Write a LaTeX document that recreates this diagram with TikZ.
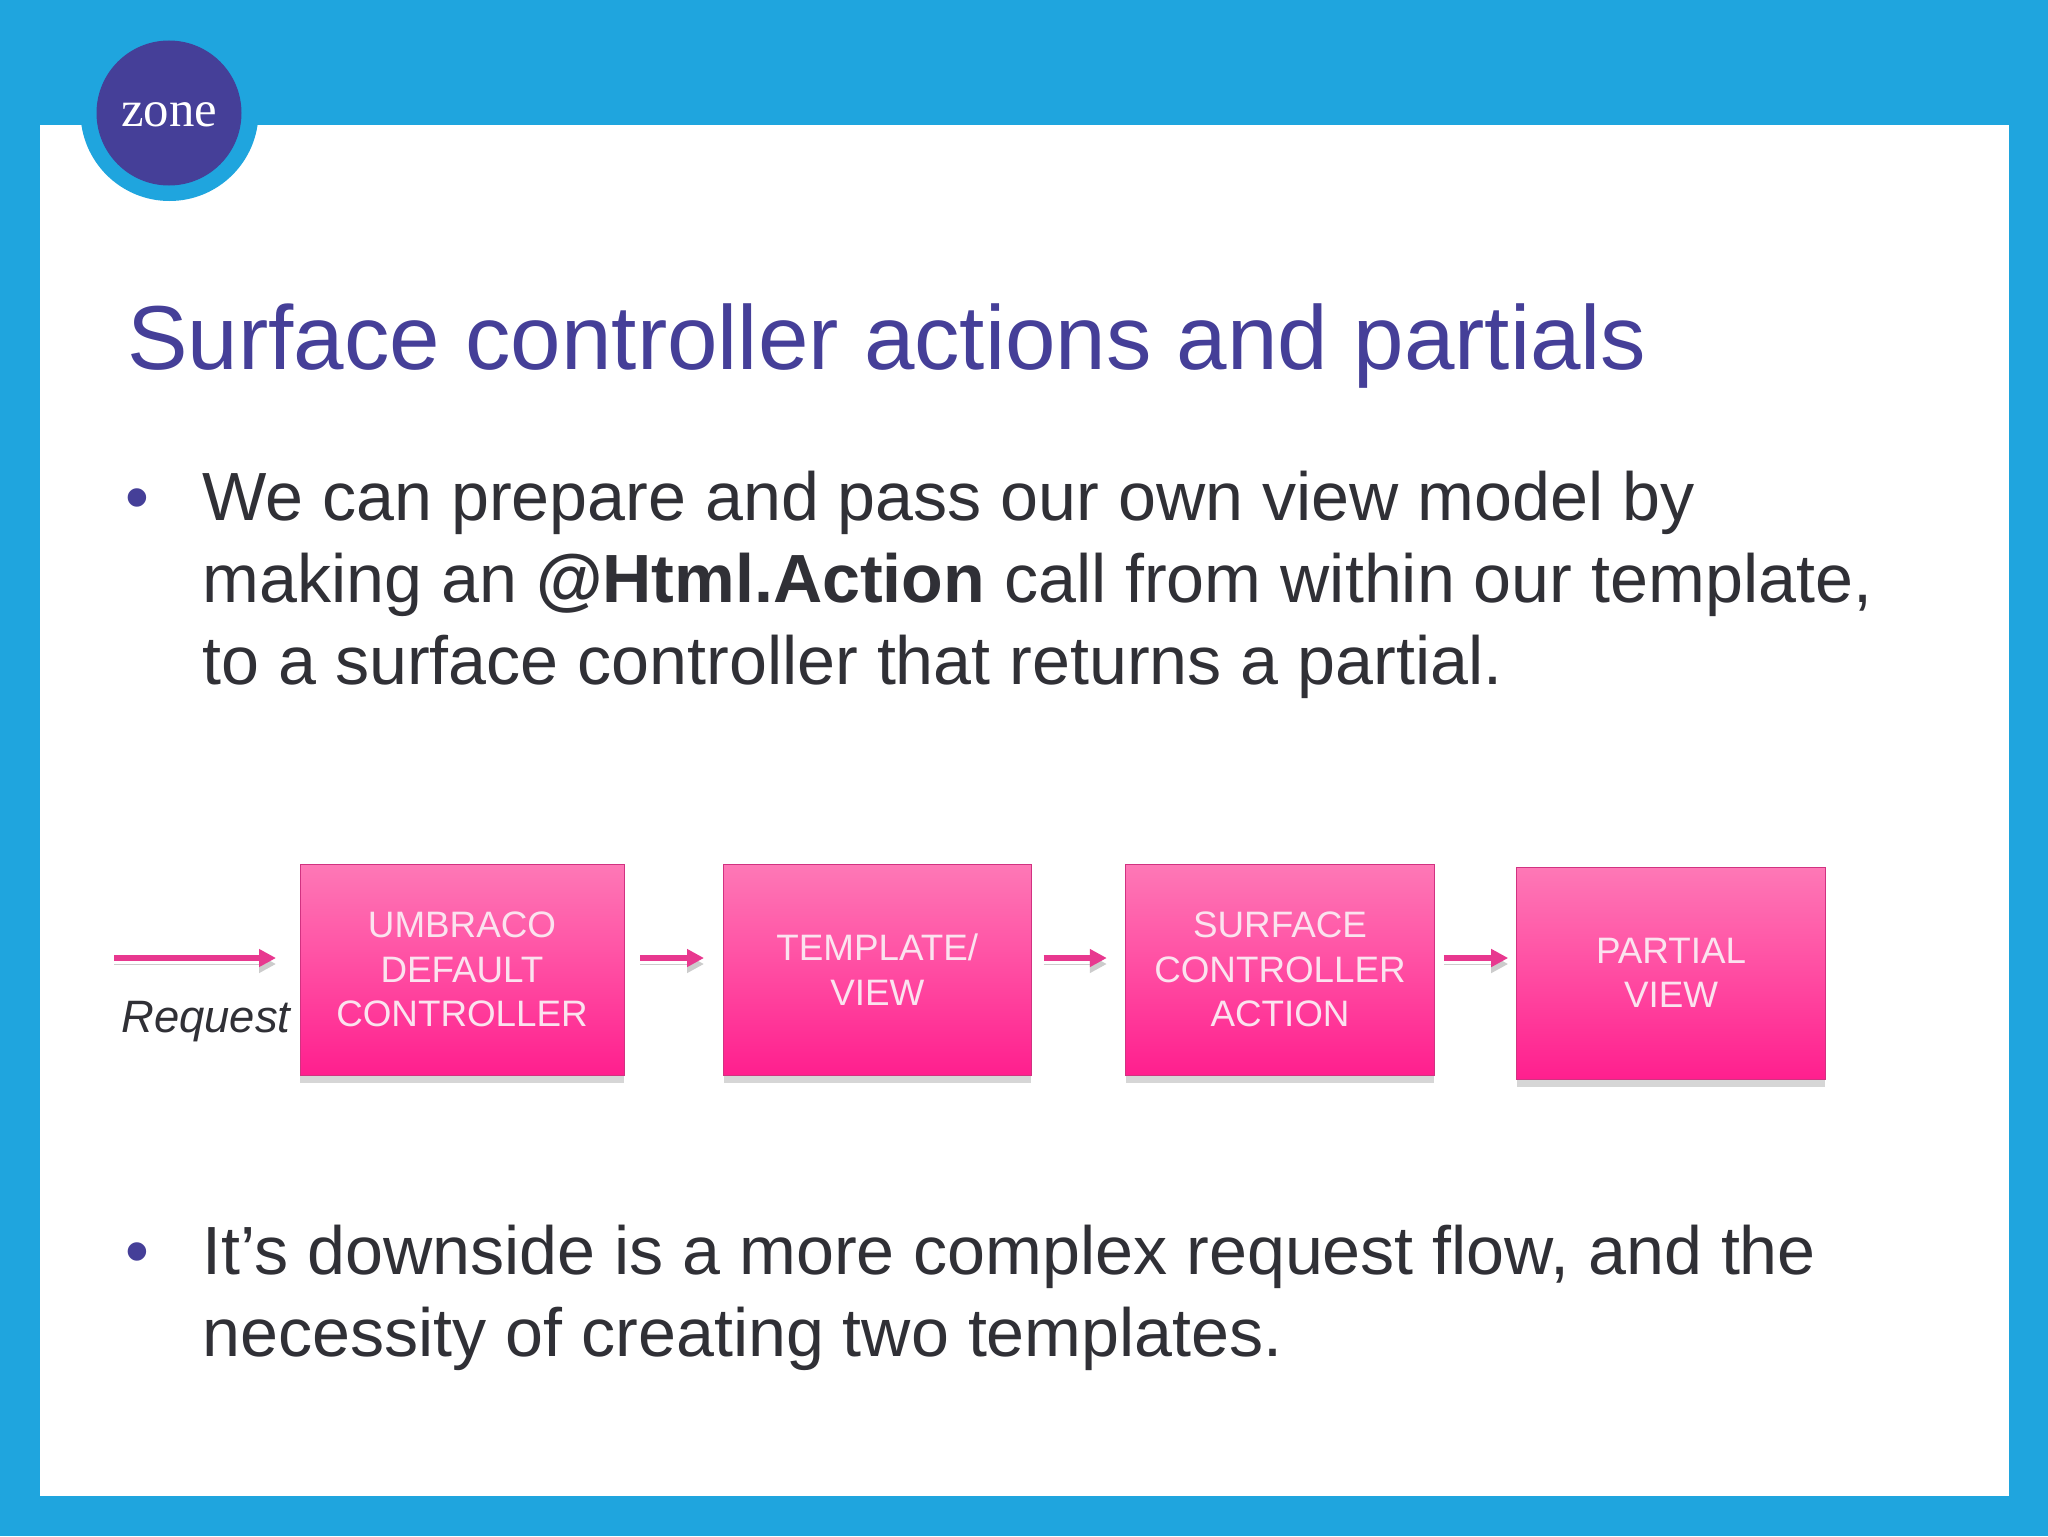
\documentclass[tikz,border=0pt]{standalone}
\usepackage{fontspec}
\setmainfont{Liberation Sans}
\newfontfamily\zoneFont{Liberation Serif}
\usetikzlibrary{arrows.meta,shadows}

\definecolor{zoneBlue}{HTML}{1FA5DE}
\definecolor{zonePurple}{HTML}{453F98}
\definecolor{bodyGrey}{HTML}{303036}
\definecolor{flowPink}{HTML}{E8388F}
\definecolor{pink1}{HTML}{FE78B6}
\definecolor{pink2}{HTML}{FF1F8E}
\definecolor{pink3}{HTML}{FF4CA2}
\definecolor{boxText}{HTML}{FBE3EF}

\def \arrowWidth {3pt}

\tikzset{
   bodyText/.style={anchor=base west, text=bodyGrey, align=left, inner sep=0pt,
      font=\fontsize{34.1}{41}\selectfont},
   bulletMark/.style={anchor=base, text=zonePurple, inner sep=0pt,
      font=\fontsize{34}{41}\selectfont},
   flowBox/.style={rectangle, draw=flowPink!90!black, line width=0.5pt, inner sep=0pt, outer sep=0pt,
      top color=pink1, bottom color=pink2, middle color=pink3,
      text=boxText, align=center, font=\fontsize{18.4}{22.2}\selectfont,
      drop shadow={shadow xshift=0pt, shadow yshift=-4pt, fill=black, opacity=0.16}},
   flowArrow/.style={draw=flowPink, line width=\arrowWidth, -{Triangle[length=8.5pt,width=8.5pt]},
      preaction={draw=black!20, transform canvas={yshift=-3pt}}},
}

\begin{document}
\begin{tikzpicture}[x=0.5pt,y=-0.5pt]
   \useasboundingbox (0,0) rectangle (2048,1536);
   \fill[zoneBlue] (0,0) rectangle (2048,1536);
   \fill[white] (40,125) rectangle (2009,1496);
   \fill[zoneBlue] (169.5,112) circle (44.5pt);
   \node[circle, fill=zonePurple, minimum size=72.5pt, inner sep=0pt] (logo) at (169,113) {};
   \node[anchor=base, text=white, inner sep=0pt, font=\zoneFont\fontsize{25.4}{30}\selectfont] (logoText) at (169,126.5) {zone};

   \node[anchor=base west, text=zonePurple, inner sep=0pt, font=\fontsize{45.4}{54}\selectfont] (title) at (127,369.5)
      {Surface controller actions and partials};

   \node[bulletMark] (bulletA) at (137,520) {•};
   \node[bodyText] (textA) at (202,684.5)
      {We can prepare and pass our own view model by\\
       making an \textbf{@Html.Action} call from within our template,\\
       to a surface controller that returns a partial.};

   \node[flowBox, minimum width=162pt, minimum height=105.5pt] (umbraco) at (462,969.5) {UMBRACO\\DEFAULT\\CONTROLLER};
   \node[flowBox, minimum width=153.7pt, minimum height=105.5pt] (template) at (877.3,969.5) {TEMPLATE/\\VIEW};
   \node[flowBox, minimum width=154.2pt, minimum height=105.5pt] (surface) at (1280,969.5) {SURFACE\\CONTROLLER\\ACTION};
   \node[flowBox, minimum width=154.2pt, minimum height=106pt] (partial) at (1671,973) {PARTIAL\\VIEW};

   \coordinate (flowLine) at (0,958);
   \coordinate (requestStart) at (114,958);
   \draw[flowArrow, shorten >=12pt] (requestStart) -- (umbraco.west |- flowLine);
   \draw[flowArrow, shorten <=8pt, shorten >=9.8pt] (umbraco.east |- flowLine) -- (template.west |- flowLine);
   \draw[flowArrow, shorten <=6.3pt, shorten >=9.5pt] (template.east |- flowLine) -- (surface.west |- flowLine);
   \draw[flowArrow, shorten <=4.8pt, shorten >=4.3pt] (surface.east |- flowLine) -- (partial.west |- flowLine);

   \node[anchor=base west, text=bodyGrey, inner sep=0pt, font=\itshape\fontsize{22.7}{27}\selectfont] (request) at (121,1032) {Request};

   \node[bulletMark] (bulletB) at (137,1274) {•};
   \node[bodyText] (textB) at (202,1356.5)
      {It’s downside is a more complex request flow, and the\\
       necessity of creating two templates.};
\end{tikzpicture}
\end{document}
